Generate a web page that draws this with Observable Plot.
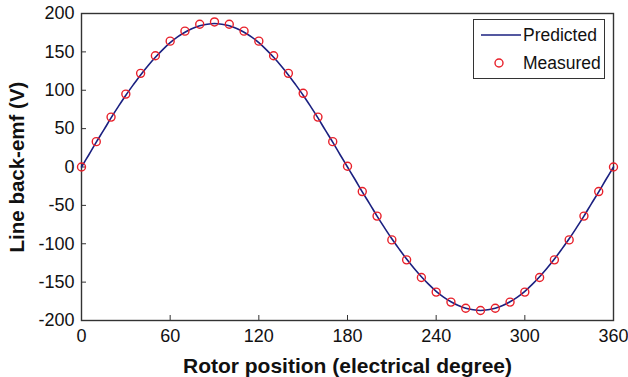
<!DOCTYPE html>
<html>
<head>
<meta charset="utf-8">
<script src="https://cdn.jsdelivr.net/npm/d3@7"></script>
<script src="https://cdn.jsdelivr.net/npm/@observablehq/plot@0.6"></script>
<style>
  html, body { margin: 0; padding: 0; background: #fff; overflow: hidden; }
  #wrap { position: relative; width: 628px; height: 377px; overflow: hidden; font-family: "Liberation Sans", Arial, sans-serif; }
  #legend { position: absolute; left: 473px; top: 19px; width: 132px; height: 60px; border: 1px solid #333; background: #fff; box-sizing: border-box; font-size: 17.5px; color: #111; }
  #legend .row { position: absolute; left: 0; height: 20px; width: 130px; }
  #legend .row svg { position: absolute; left: 0; top: 0; }
  #legend .row span { position: absolute; left: 49px; top: 0; line-height: 20px; white-space: nowrap; }
</style>
</head>
<body>
<div id="wrap">
  <div id="chart"></div>
  <div id="legend">
    <div class="row" style="top:5px;"><svg width="48" height="20"><line x1="7" x2="47" y1="10" y2="10" stroke="#1b2080" stroke-width="1.5"/></svg><span>Predicted</span></div>
    <div class="row" style="top:33px;"><svg width="48" height="20"><circle cx="25" cy="10" r="4" fill="none" stroke="#e8202a" stroke-width="1.4"/></svg><span>Measured</span></div>
  </div>
</div>
<script>
// Measured points (every 10 electrical degrees)
const measuredAngle = [0,10,20,30,40,50,60,70,80,90,100,110,120,130,140,150,160,170,180,190,200,210,220,230,240,250,260,270,280,290,300,310,320,330,340,350,360];
const measuredEmf   = [0,33,65,95,122,145,164,177,186,189,186,177,164,145,122,96,65,33,1,-32,-64,-95,-121,-144,-163,-176,-184,-187,-184,-176,-163,-144,-121,-95,-64,-32,0];

// Predicted curve (every 5 electrical degrees)
const predictedAngle = [0,5,10,15,20,25,30,35,40,45,50,55,60,65,70,75,80,85,90,95,100,105,110,115,120,125,130,135,140,145,150,155,160,165,170,175,180,
  185,190,195,200,205,210,215,220,225,230,235,240,245,250,255,260,265,270,275,280,285,290,295,300,305,310,315,320,325,330,335,340,345,350,355,360];
const predictedEmf = [0,16,32.5,48,64,79,93.5,107,120,132,143,153,162,169.5,175.5,180.5,184,186,187,186,184,180.5,175.5,169.5,162,153,143,132,120,107,93.5,79,64,48,32.5,16,0,
  -16,-32.5,-48,-64,-79,-93.5,-107,-120,-132,-143,-153,-162,-169.5,-175.5,-180.5,-184,-186,-187,-186,-184,-180.5,-175.5,-169.5,-162,-153,-143,-132,-120,-107,-93.5,-79,-64,-48,-32.5,-16,0];

const xTicks = [0,60,120,180,240,300,360];
const yTicks = [-200,-150,-100,-50,0,50,100,150,200];

const measured = measuredAngle.map((a, i) => ({angle: a, emf: measuredEmf[i]}));
const predicted = predictedAngle.map((a, i) => ({angle: a, emf: predictedEmf[i]}));

const chart = Plot.plot({
  width: 628,
  height: 377,
  marginLeft: 81,
  marginRight: 15,
  marginTop: 13,
  marginBottom: 57,
  style: { fontFamily: '"Liberation Sans", Arial, sans-serif', fontSize: "18px", color: "#111", background: "#fff", overflow: "hidden" },
  x: { domain: [0, 360] },
  y: { domain: [-200, 200] },
  marks: [
    Plot.frame({ stroke: "#333", strokeWidth: 1.4 }),
    Plot.axisX({ ticks: xTicks, tickSize: -5, tickPadding: 14, tickFormat: d => String(d), label: null, fontSize: "18px", stroke: "#333" }),
    Plot.axisY({ ticks: yTicks, tickSize: -5, tickPadding: 12, tickFormat: d => String(d), label: null, fontSize: "18px", stroke: "#333" }),
    Plot.text(["Rotor position (electrical degree)"], { frameAnchor: "bottom", dy: 52, fontWeight: "bold", fontSize: 21, fill: "#111" }),
    Plot.text(["Line back-emf (V)"], { frameAnchor: "left", dx: -64, textAnchor: "middle", rotate: -90, fontWeight: "bold", fontSize: 20.5, fill: "#111" }),
    Plot.line(predicted, { x: "angle", y: "emf", stroke: "#1b2080", strokeWidth: 1.6, curve: "catmull-rom" }),
    Plot.dot(measured, { x: "angle", y: "emf", r: 4, stroke: "#e8202a", strokeWidth: 1.4, fill: "none" })
  ]
});
document.getElementById("chart").appendChild(chart);
</script>
</body>
</html>
